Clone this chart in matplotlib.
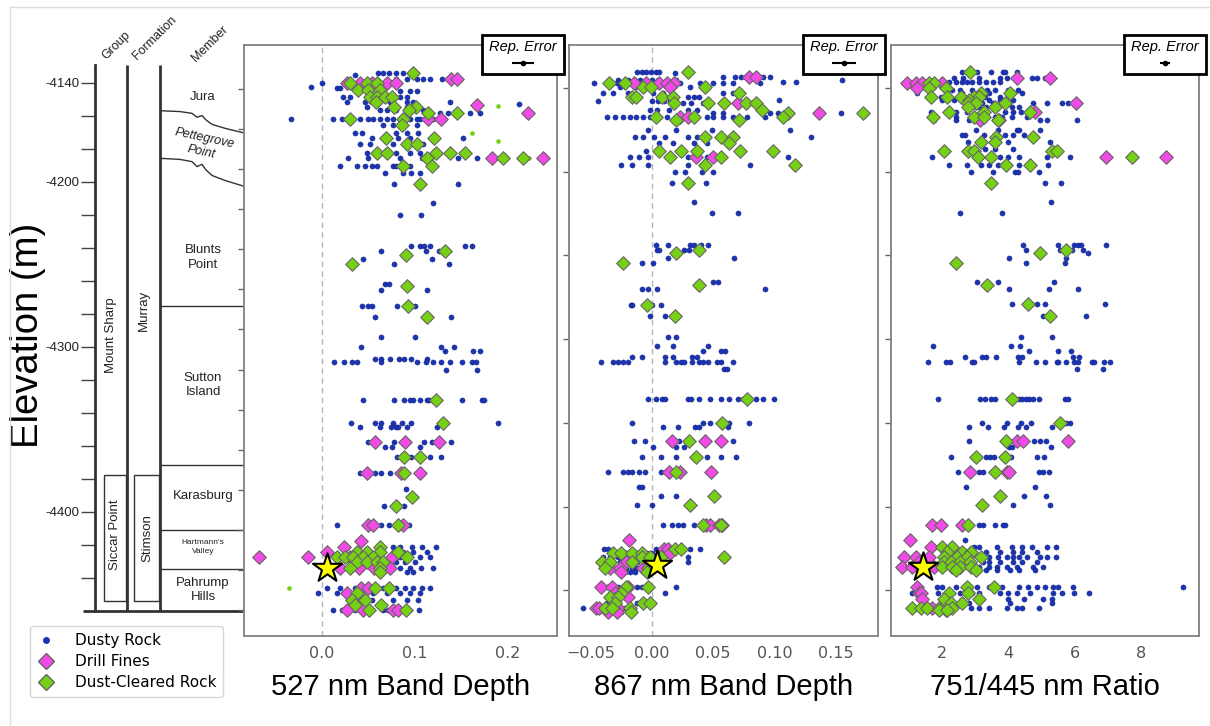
import matplotlib
matplotlib.use("Agg")
import matplotlib.pyplot as plt
from matplotlib.lines import Line2D
from matplotlib.patches import Rectangle

# ---------------- data (elevation in m, value) ----------------
dusty_527 = [
    (-4134.1, [0.060, 0.066, 0.072, 0.080, 0.087]), (-4135.3, [0.036]),
    (-4137.8, [0.080, 0.091, 0.102, 0.109, 0.116, 0.129]),
    (-4140.2, [0.000]), (-4142.6, [-0.012]),
    (-4143.2, [0.016, 0.019, 0.066]), (-4145.0, [0.084, 0.095, 0.102]),
    (-4148.7, [0.023, 0.030, 0.084, 0.091]),
    (-4151.7, [0.027, 0.046, 0.073, 0.091, 0.098, 0.138]), (-4152.9, [0.212]),
    (-4154.7, [0.048, 0.091]), (-4156.5, [0.062, 0.070, 0.080, 0.109]),
    (-4158.4, [0.127, 0.136, 0.159, 0.170]),
    (-4162.0, [-0.033, 0.012, 0.021, 0.030, 0.041, 0.049, 0.055, 0.062, 0.070, 0.076,
               0.084, 0.095, 0.102, 0.105, 0.119]),
    (-4165.6, [0.066, 0.076, 0.102]), (-4170.5, [0.035, 0.043, 0.080, 0.091, 0.103]),
    (-4173.5, [0.054, 0.082, 0.095, 0.152]), (-4177.2, [0.041, 0.052, 0.076, 0.109]),
    (-4182.6, [0.048, 0.080, 0.095, 0.105]),
    (-4185.6, [0.028, 0.049, 0.084, 0.108, 0.146, 0.167]),
    (-4190.5, [0.019, 0.038, 0.046, 0.054, 0.059, 0.076, 0.080, 0.087, 0.095]),
    (-4194.7, [0.068, 0.087, 0.096, 0.105]),
    (-4201.4, [0.077, 0.146]), (-4212.9, [0.120]), (-4220.2, [0.084, 0.107]),
    (-4239.0, [0.096, 0.105, 0.110, 0.116, 0.154, 0.162]),
    (-4242.0, [0.064, 0.112, 0.126, 0.135]), (-4246.8, [0.044, 0.118]),
    (-4249.9, [0.077, 0.137]), (-4262.0, [0.068, 0.072]),
    (-4265.6, [0.064, 0.113]), (-4275.3, [0.043, 0.050, 0.054, 0.081, 0.100]),
    (-4282.0, [0.057, 0.139]), (-4294.1, [0.064, 0.100]),
    (-4300.2, [0.042, 0.128, 0.142]), (-4302.6, [0.132, 0.163, 0.170]),
    (-4307.5, [0.057, 0.063, 0.073, 0.083, 0.088, 0.096, 0.113]),
    (-4309.3, [0.013, 0.024, 0.032, 0.038, 0.063, 0.102, 0.112, 0.120, 0.128, 0.138,
               0.151, 0.161, 0.166]),
    (-4314.1, [0.133, 0.167]),
    (-4332.3, [0.044, 0.077, 0.088, 0.095, 0.098, 0.106, 0.113, 0.115, 0.151, 0.172, 0.174]),
    (-4346.2, [0.031, 0.057, 0.064, 0.076, 0.086, 0.096, 0.189]),
    (-4348.7, [0.041, 0.062, 0.074, 0.080, 0.082, 0.091, 0.124]),
    (-4357.8, [0.050, 0.078, 0.110, 0.118, 0.139]), (-4360.8, [0.068, 0.075, 0.105]),
    (-4366.8, [0.081, 0.096, 0.108, 0.116, 0.128]),
    (-4376.5, [0.041, 0.057, 0.064, 0.073]), (-4386.2, [0.090]),
    (-4396.5, [0.067, 0.088]), (-4408.1, [0.016, 0.064, 0.072, 0.094]),
    (-4421.4, [0.076, 0.084, 0.097, 0.108, 0.123]), (-4424.4, [0.087, 0.098, 0.113]),
    (-4427.5, [0.084, 0.105, 0.116]), (-4430.5, [0.080, 0.089, 0.100]),
    (-4434.1, [0.084, 0.095, 0.107, 0.119]), (-4436.5, [0.091, 0.098]),
    (-4446.2, [0.005, 0.019, 0.035, 0.066, 0.080, 0.089, 0.098, 0.108, 0.116]),
    (-4449.2, [-0.004, 0.016, 0.027, 0.055, 0.070, 0.084, 0.095, 0.105]),
    (-4453.5, [0.054, 0.076, 0.091, 0.103]),
    (-4459.5, [0.012, 0.021, 0.035, 0.066, 0.071, 0.104]),
]
fines_527 = [
    (-4137.8, [0.139, 0.145]), (-4140.2, [0.027, 0.041, 0.054, 0.070, 0.080]),
    (-4153.5, [0.167]), (-4158.4, [0.222]), (-4162.0, [0.114, 0.128]),
    (-4185.6, [0.183, 0.238]), (-4357.8, [0.057, 0.089, 0.126]),
    (-4376.5, [0.048, 0.085, 0.106]), (-4408.1, [0.050, 0.055, 0.087]),
    (-4417.8, [0.042]), (-4421.4, [0.024]), (-4424.4, [0.005]),
    (-4427.5, [-0.068, -0.015, 0.030, 0.075]), (-4430.5, [0.044]),
    (-4434.1, [0.019, 0.040, 0.056, 0.073]), (-4446.2, [0.042, 0.050]),
    (-4449.2, [0.027]), (-4453.5, [0.041]), (-4459.5, [0.027, 0.044, 0.076, 0.082]),
]
cleared_527 = [
    (-4134.1, [0.098]), (-4140.2, [0.030, 0.048, 0.059]), (-4144.4, [0.039, 0.050, 0.062]),
    (-4148.7, [0.052, 0.059, 0.068, 0.075]), (-4151.7, [0.058]), (-4154.7, [0.077, 0.101]),
    (-4156.5, [0.094]), (-4158.4, [0.114, 0.145]), (-4162.0, [0.030, 0.087]),
    (-4165.6, [0.086]), (-4173.5, [0.069, 0.121]), (-4177.2, [0.092, 0.102]),
    (-4182.6, [0.059, 0.070, 0.123, 0.138, 0.154]), (-4185.6, [0.113, 0.195, 0.216]),
    (-4190.5, [0.087, 0.118]), (-4201.4, [0.106]), (-4242.0, [0.132]),
    (-4244.4, [0.090]), (-4249.9, [0.032]), (-4263.2, [0.091]), (-4275.3, [0.093]),
    (-4282.0, [0.113]), (-4332.3, [0.123]), (-4346.2, [0.130]),
    (-4366.8, [0.088, 0.106]), (-4376.5, [0.088]), (-4391.1, [0.097]),
    (-4396.5, [0.080]), (-4408.1, [0.082]), (-4421.4, [0.062]),
    (-4424.4, [0.038, 0.048, 0.062, 0.082]),
    (-4427.5, [0.016, 0.025, 0.033, 0.044, 0.055, 0.091]),
    (-4430.5, [0.038, 0.048, 0.059, 0.066]), (-4434.1, [0.030, 0.062]),
    (-4436.5, [0.062]), (-4446.2, [0.057, 0.072]), (-4449.2, [0.038]),
    (-4453.5, [0.032, 0.046]), (-4456.5, [0.035, 0.064]), (-4459.5, [0.051, 0.090]),
]
cleared_small_527 = [(-4154.1, [0.190]), (-4170.5, [0.162]), (-4175.3, [0.190]),
                     (-4185.6, [0.223]), (-4446.2, [-0.036])]
star_527 = (0.005, -4434.1)

dusty_867 = [
    (-4133.5, [-0.012, -0.008, -0.005, -0.001, 0.003, 0.006]), (-4134.1, [0.019]),
    (-4136.5, [0.058, 0.068, 0.073, 0.091, 0.096]),
    (-4138.4, [-0.028, -0.020, -0.015, -0.010, -0.005, 0.000, 0.005, 0.012, 0.020, 0.155]),
    (-4139.6, [0.107, 0.118]),
    (-4140.2, [-0.047, -0.029, -0.003, 0.023, 0.039, 0.050, 0.058, 0.066, 0.088]),
    (-4142.6, [-0.026, -0.014, 0.031]),
    (-4146.2, [-0.040, -0.032, -0.020, 0.001, 0.009, 0.058, 0.066]),
    (-4148.7, [0.029, 0.034, 0.038]), (-4150.5, [0.104]),
    (-4151.1, [-0.044, 0.000, 0.005, 0.010, 0.015]), (-4152.3, [0.025, 0.032, 0.042]),
    (-4156.5, [-0.002, 0.004, 0.014, 0.029, 0.037]),
    (-4158.4, [0.050, 0.058, 0.096, 0.103, 0.154]),
    (-4160.8, [-0.037, -0.030, -0.024, -0.018, -0.013, -0.007, -0.002, 0.006, 0.012,
               0.045, 0.050, 0.058, 0.066, 0.078, 0.092]),
    (-4168.7, [-0.003, 0.020, 0.049, 0.113]),
    (-4172.9, [-0.014, -0.007, 0.002, 0.011, 0.029, 0.037, 0.130]),
    (-4176.5, [0.006, 0.017, 0.034, 0.045]), (-4181.4, [-0.005, 0.021]),
    (-4185.0, [-0.018, -0.011, -0.003, 0.029, 0.045, 0.111]),
    (-4189.9, [-0.025, -0.016, -0.003, 0.029, 0.080]),
    (-4194.1, [0.019, 0.027, 0.041, 0.050]),
    (-4200.8, [0.016, 0.044]), (-4212.3, [0.034]), (-4219.0, [0.049, 0.070]),
    (-4238.4, [0.003, 0.013, 0.031, 0.034, 0.040, 0.046]),
    (-4241.4, [0.004, 0.006, 0.026, 0.030]), (-4246.2, [0.013, 0.067]),
    (-4249.3, [-0.008, 0.001]), (-4260.8, [0.050, 0.054]),
    (-4265.0, [-0.008, -0.003, 0.004, 0.092]), (-4274.7, [-0.017, -0.016, 0.000, 0.007]),
    (-4281.4, [-0.002, 0.011]), (-4294.1, [0.013, 0.020]),
    (-4299.6, [0.004, 0.017, 0.046]), (-4302.6, [0.042, 0.056, 0.060]),
    (-4306.2, [-0.016, -0.008, 0.011, 0.017, 0.033, 0.037]),
    (-4309.3, [-0.042, -0.032, -0.028, -0.024, -0.020, 0.011, 0.020, 0.024, 0.026, 0.033,
               0.038, 0.042, 0.046, 0.053, 0.056, 0.066]),
    (-4313.5, [0.059, 0.061]),
    (-4331.7, [-0.003, 0.003, 0.008, 0.011, 0.029, 0.032, 0.038, 0.047, 0.056, 0.063,
               0.070, 0.074, 0.085, 0.091, 0.100]),
    (-4346.2, [-0.016, 0.042, 0.047, 0.063, 0.079]),
    (-4348.7, [0.009, 0.021, 0.035, 0.038, 0.062]),
    (-4357.2, [-0.015, -0.006, 0.022, 0.066]), (-4360.8, [0.001, 0.020, 0.026]),
    (-4366.8, [-0.008, 0.007, 0.020, 0.045, 0.056, 0.069]),
    (-4375.9, [-0.036, -0.024, -0.020, -0.016, -0.011, -0.006, 0.007]),
    (-4385.0, [-0.011, -0.008]), (-4390.5, [0.007, 0.020]), (-4395.9, [-0.012, 0.000]),
    (-4408.1, [0.009, 0.016, 0.021, 0.025, 0.034, 0.039]),
    (-4422.6, [-0.039, -0.036, 0.003, 0.023, 0.031, 0.039]),
    (-4425.0, [-0.026, -0.021, -0.004, 0.000]), (-4427.5, [-0.040, -0.034, -0.028, 0.029]),
    (-4430.5, [-0.026, -0.021, -0.012, 0.029]), (-4434.1, [-0.021, -0.016, -0.012]),
    (-4436.5, [-0.022, -0.018, -0.014]),
    (-4445.6, [-0.037, -0.028, -0.012, -0.008, 0.020]),
    (-4449.2, [-0.032, -0.024, 0.011]), (-4455.3, [-0.037, -0.012]),
    (-4458.3, [-0.056, -0.022]), (-4460.8, [-0.025]),
]
fines_867 = [
    (-4136.5, [0.079, 0.085]), (-4140.2, [-0.015, -0.005, 0.006, 0.012, 0.018]),
    (-4142.6, [0.015]), (-4152.3, [0.070]), (-4158.4, [0.136]), (-4160.8, [0.023, 0.029]),
    (-4185.0, [0.036, 0.050]), (-4357.2, [0.016, 0.043, 0.056]),
    (-4375.9, [0.014, 0.023, 0.048]), (-4408.1, [0.044, 0.047, 0.055, 0.057]),
    (-4417.2, [-0.019]), (-4422.6, [0.010, 0.013]), (-4425.0, [0.015]),
    (-4427.5, [-0.022, -0.012]), (-4430.5, [-0.021]), (-4434.1, [-0.034, -0.026, -0.007]),
    (-4436.5, [-0.025]), (-4445.6, [-0.042, -0.033, -0.020]), (-4449.2, [-0.030]),
    (-4451.7, [-0.020]), (-4458.3, [-0.046, -0.043, -0.028]), (-4460.8, [-0.036, -0.029]),
]
cleared_867 = [
    (-4133.5, [0.029]), (-4140.2, [-0.035, -0.022]), (-4142.6, [-0.007, -0.001, 0.043]),
    (-4146.2, [0.071]), (-4148.7, [-0.016, -0.013, 0.008, 0.017]),
    (-4152.3, [0.018, 0.046, 0.059, 0.077, 0.085]), (-4156.5, [0.090]),
    (-4158.4, [0.111, 0.172]), (-4160.8, [0.003, 0.034, 0.107]), (-4162.6, [0.020, 0.071]),
    (-4172.9, [0.043, 0.056, 0.066]), (-4176.5, [0.063]),
    (-4181.4, [0.006, 0.024, 0.037, 0.072, 0.099]), (-4185.0, [0.015, 0.056]),
    (-4189.9, [0.043, 0.117]), (-4200.8, [0.029]), (-4241.4, [0.038]), (-4243.2, [0.020]),
    (-4249.3, [-0.024]), (-4262.6, [0.038]), (-4274.7, [-0.004]), (-4281.4, [0.019]),
    (-4331.7, [0.078]), (-4346.2, [0.057]), (-4357.2, [0.030]), (-4366.8, [0.036]),
    (-4375.9, [0.020]), (-4390.5, [0.051]), (-4395.9, [0.031]), (-4408.1, [0.042, 0.056]),
    (-4422.6, [0.019, 0.024]), (-4425.0, [-0.032, -0.025, -0.016, -0.008]),
    (-4427.5, [-0.008, -0.002, 0.007, 0.059]), (-4430.5, [-0.041, -0.034, -0.016]),
    (-4434.1, [-0.038, -0.003]), (-4436.5, [-0.004]), (-4445.6, [-0.021, -0.003]),
    (-4449.2, [-0.025]), (-4451.7, [-0.034, -0.028]), (-4455.3, [-0.030, -0.007, -0.002]),
    (-4458.3, [-0.038, -0.033, -0.018]), (-4460.8, [-0.017]),
]
star_867 = (0.004, -4432.3)

dusty_ratio = [
    (-4133.5, [2.58, 3.06, 3.48, 3.82, 3.88, 4.24]),
    (-4137.2, [2.36, 2.61, 3.12, 3.73, 3.94, 4.70, 4.85, 5.09]),
    (-4139.6, [2.00, 2.21, 2.42, 2.58, 2.73, 2.91, 3.12, 3.33, 3.52, 3.73]),
    (-4144.4, [2.30, 2.52, 2.91, 3.36, 3.58, 3.97, 4.27]),
    (-4146.2, [1.24, 2.58, 3.42, 4.42]), (-4148.7, [1.97, 2.82, 3.30, 3.73]),
    (-4150.5, [2.00, 2.36, 2.73, 3.42, 3.73, 4.12]),
    (-4152.3, [3.21, 3.52, 4.73, 5.15, 5.61, 5.79]),
    (-4154.7, [3.03, 3.12, 3.33, 4.09, 4.33]),
    (-4157.8, [1.67, 2.42, 2.73, 3.88, 4.12, 4.39]),
    (-4160.8, [2.42, 3.58, 3.79, 4.09, 4.55]),
    (-4162.6, [1.76, 2.42, 2.82, 4.94, 5.15, 6.06]),
    (-4168.7, [3.03, 3.67, 4.24, 4.33, 4.94]),
    (-4171.7, [2.58, 2.67, 3.27, 3.88, 4.12, 4.48]),
    (-4175.9, [2.76, 3.97, 5.24]), (-4180.2, [2.97, 3.30, 3.58, 4.12]),
    (-4185.0, [1.70, 3.12, 3.73, 3.97, 4.33, 5.15, 5.85]),
    (-4189.9, [2.21, 2.73, 3.18, 3.42, 3.67, 4.33, 5.18]),
    (-4194.1, [2.88, 3.52, 4.18, 4.27, 4.91]),
    (-4200.8, [5.09, 5.58]), (-4212.3, [5.27]), (-4219.0, [2.52, 3.79]),
    (-4238.4, [4.45, 5.48, 5.97, 6.09, 6.18, 6.94]),
    (-4241.4, [4.52, 5.55, 5.91, 6.24]), (-4243.2, [6.39]), (-4246.2, [4.00, 5.73]),
    (-4249.3, [4.52, 5.70]), (-4260.8, [3.06, 3.67, 5.36]), (-4265.0, [4.00, 5.21, 6.09]),
    (-4274.1, [4.09, 4.85, 5.09, 6.91]), (-4281.4, [5.03, 6.33]), (-4294.1, [4.39, 5.30]),
    (-4299.6, [1.73, 4.06, 4.36]), (-4302.6, [4.61, 5.48, 5.88]),
    (-4306.2, [2.67, 3.21, 3.33, 3.61, 4.27, 4.42, 5.94, 6.12]),
    (-4309.3, [1.58, 2.12, 2.24, 2.91, 2.97, 4.33, 4.82, 5.09, 5.45, 5.48, 5.73, 5.97,
               6.09, 6.52, 6.58, 6.88, 7.06]),
    (-4313.5, [6.06, 6.85]),
    (-4331.7, [1.88, 3.15, 3.30, 3.48, 3.58, 4.30, 4.42, 4.52, 4.61, 4.73, 4.91, 5.70, 5.79]),
    (-4346.2, [3.21, 3.94, 4.39, 4.67, 5.73, 5.85]),
    (-4348.7, [2.82, 3.39, 3.85, 4.27, 4.52, 5.30]),
    (-4357.2, [2.82, 4.76, 4.94, 5.12]), (-4360.8, [4.00, 4.09, 5.27]),
    (-4366.8, [2.27, 3.33, 3.45, 3.55, 4.06, 4.85, 5.06]),
    (-4375.9, [2.48, 3.12, 3.24, 4.91, 5.03, 5.21]),
    (-4385.0, [2.70, 4.79]), (-4390.5, [4.48, 5.12]), (-4395.9, [4.12, 5.24]),
    (-4408.1, [3.12, 3.24, 3.58, 3.82, 3.88]), (-4417.2, [2.67]),
    (-4421.4, [2.97, 3.12, 3.64, 4.09, 4.42, 4.70, 5.15, 5.42]),
    (-4424.4, [3.33, 3.73, 4.12, 4.42, 4.85]),
    (-4427.5, [3.42, 3.67, 3.94, 4.12, 4.33, 4.55, 4.94, 5.15, 5.42]),
    (-4430.5, [3.24, 3.42, 3.73, 4.12, 4.42, 4.85]),
    (-4433.5, [3.12, 3.42, 3.64, 3.94, 4.24, 4.73, 5.03]),
    (-4435.3, [3.33, 3.64, 4.03, 4.33, 4.79]),
    (-4445.6, [1.85, 2.00, 2.42, 3.06, 3.42, 3.79, 4.33, 4.58, 4.85, 5.09, 5.33, 5.48,
               5.94, 9.27]),
    (-4449.2, [1.09, 1.88, 2.52, 2.91, 3.12, 3.73, 3.97, 4.24, 4.64, 5.33, 5.61, 5.97, 6.42]),
    (-4452.9, [3.97, 4.48, 5.03, 5.30]), (-4455.3, [2.82, 4.03, 5.30]),
    (-4458.3, [2.88, 3.12, 3.42, 3.94, 4.24, 4.42, 4.91]),
]
fines_ratio = [
    (-4137.2, [4.24, 5.24]), (-4140.2, [0.94, 1.21, 1.39, 2.00]), (-4143.2, [1.24]),
    (-4152.3, [6.03]), (-4157.8, [4.79]), (-4162.6, [3.15, 3.70]), (-4185.0, [6.94, 8.76]),
    (-4357.2, [4.24, 4.45, 5.79]), (-4375.9, [2.85, 3.94, 4.00]),
    (-4408.1, [1.70, 1.97, 2.58]), (-4417.2, [1.03]), (-4421.4, [1.67]),
    (-4427.5, [0.85, 1.21, 1.61]), (-4430.5, [1.30]), (-4433.5, [0.79, 1.09, 1.76]),
    (-4445.6, [1.24]), (-4449.2, [1.30, 1.36]), (-4452.9, [1.39]),
    (-4458.3, [1.70, 2.21]), (-4459.5, [2.12]),
]
cleared_ratio = [
    (-4133.5, [2.85]), (-4140.2, [1.61, 1.76]), (-4143.2, [1.61, 2.12]),
    (-4146.2, [3.18, 4.03]), (-4148.7, [1.67, 2.15, 2.55, 2.97, 3.12]), (-4150.5, [2.82]),
    (-4152.3, [2.76, 3.03, 3.88]), (-4154.7, [2.79, 3.58]), (-4157.8, [2.21, 3.27, 4.64]),
    (-4160.8, [1.73, 2.97, 3.27]), (-4162.6, [3.67]), (-4172.9, [3.61, 4.73]),
    (-4175.9, [3.18, 3.58]), (-4181.4, [2.06, 2.76, 2.97, 5.30, 5.45]),
    (-4185.0, [3.09, 3.48, 7.73]), (-4189.9, [3.91, 4.64]), (-4200.8, [3.48]),
    (-4241.4, [5.73]), (-4243.2, [4.94]), (-4249.3, [2.42]), (-4262.6, [3.36]),
    (-4274.1, [4.58]), (-4281.4, [5.24]), (-4331.7, [4.09]), (-4346.2, [5.55]),
    (-4357.2, [3.91]), (-4366.8, [3.03, 3.88]), (-4375.9, [3.58]), (-4390.5, [3.73]),
    (-4395.9, [3.21]), (-4408.1, [2.79]), (-4421.4, [2.00, 2.30]),
    (-4424.4, [2.15, 2.58, 2.88]), (-4427.5, [2.06, 2.45, 2.73, 3.18]),
    (-4430.5, [2.06, 2.27, 2.52, 2.85]), (-4433.5, [2.00, 2.30, 2.52, 2.88]),
    (-4435.3, [2.42, 3.03]), (-4445.6, [2.73, 3.55]), (-4449.2, [2.21, 2.76]),
    (-4452.9, [2.06, 3.12]), (-4455.3, [2.27, 2.58]),
    (-4458.3, [1.09, 1.36, 1.55, 1.91, 2.30]), (-4459.5, [1.91, 2.15]),
]
star_ratio = (1.42, -4433.5)

panel_labels = ["527 nm Band Depth", "867 nm Band Depth", "751/445 nm Ratio"]
rep_error = [0.011, 0.0086, 0.12]

# stratigraphy (elevation, m)
members = ["Jura", "Pettegrove\nPoint", "Blunts\nPoint", "Sutton\nIsland",
           "Karasburg", "Hartmann's\nValley", "Pahrump\nHills"]
member_label_elev = [-4148.5, -4178.0, -4246.0, -4323.0, -4390.5, -4421.5, -4447.5]
member_bounds = [-4275.3, -4371.7, -4411.1, -4434.7]
col_top, col_bottom = -4129.3, -4460.0
lower_box = (-4454.0, -4377.8)

BLUE = "#1b33b5"
PINK = "#f24ae6"
GREEN = "#76d115"
EDGE = "#666666"


def flat(rows):
    xs, ys = [], []
    for elev, vals in rows:
        xs += vals
        ys += [elev] * len(vals)
    return xs, ys


W, H = 1210, 726
fig = plt.figure(figsize=(W / 100, H / 100), dpi=100)


def elev(py):
    # pixel row of the reference column -> elevation
    return -4140 - (py - 82.7) / 1.65


# faint outer frame of the original figure
fig.add_artist(Line2D([10 / W, 10 / W], [0, 1 - 7 / H], transform=fig.transFigure,
                      color="#dddddd", lw=1))
fig.add_artist(Line2D([10 / W, 1], [1 - 7 / H, 1 - 7 / H], transform=fig.transFigure,
                      color="#dddddd", lw=1))

# ---------------- stratigraphic column ----------------
ax0 = fig.add_axes([0, 0, 244 / W, 1])
ax0.set_xlim(0, 244)
ax0.set_ylim(elev(H), elev(0))
for s in ["top", "right", "bottom"]:
    ax0.spines[s].set_visible(False)
ax0.spines["left"].set_position(("data", 95))
ax0.spines["left"].set_bounds(col_bottom, col_top)
ax0.spines["left"].set_linewidth(2)
ax0.spines["left"].set_color("#333333")
ax0.set_xticks([])
ticks = list(range(-4440, -4139, 20))
ax0.set_yticks(ticks)
ax0.set_yticklabels([str(t) if t in (-4140, -4200, -4300, -4400) else "" for t in ticks],
                    family="Liberation Sans", fontsize=9.5, color="#222222")
ax0.tick_params(axis="y", length=10, width=1, color="#444444", pad=1)
ax0.patch.set_alpha(0)

lc = "#333333"
ax0.vlines([127, 160], col_bottom, col_top, color=lc, lw=2)
ax0.hlines(col_bottom, 83, 243, color=lc, lw=2)
ax0.hlines(member_bounds, 160, 243, color=lc, lw=1)
for x0, w in [(104, 22), (134, 25)]:
    ax0.add_patch(Rectangle((x0, lower_box[0]), w, lower_box[1] - lower_box[0],
                            fill=False, ec=lc, lw=1))
# wavy member boundaries
for py0, py1 in [(110.7, 132.7), (158.3, 186.0)]:
    xs = [160, 180, 192, 197, 202, 206, 212, 225, 243]
    frac = [0, 0.04, 0.12, 0.30, 0.22, 0.42, 0.62, 0.80, 1.0]
    ax0.plot(xs, [elev(py0 + f * (py1 - py0)) for f in frac], color=lc, lw=1)

tkw = dict(family="Liberation Sans", color="#222222", ha="center", va="center")
for name, e in zip(members, member_label_elev):
    if name.startswith("Hartmann"):
        ax0.text(203, e, name, fontsize=6, linespacing=1.3, **tkw)
    elif name.startswith("Pettegrove"):
        ax0.text(203, e, name, fontsize=9, rotation=-12, style="italic", **tkw)
    else:
        ax0.text(203, e, name, fontsize=9.5, linespacing=1.25, **tkw)
ax0.text(111, elev(335), "Mount Sharp", rotation=90, fontsize=9.5, **tkw)
ax0.text(144, elev(310), "Murray", rotation=90, fontsize=9.5, **tkw)
ax0.text(115, elev(535), "Siccar Point", rotation=90, fontsize=9.5, **tkw)
ax0.text(147, elev(538), "Stimson", rotation=90, fontsize=9.5, **tkw)
for x, py, s in [(108, 62, "Group"), (139, 62, "Formation"), (198, 64, "Member")]:
    ax0.text(x, elev(py), s, rotation=45, rotation_mode="anchor", ha="left", va="bottom",
             fontsize=9, family="Liberation Sans", color="#222222", clip_on=False)
ax0.text(28, elev(335), "Elevation (m)", rotation=90, ha="center", va="center",
         family="Liberation Sans", fontsize=27.5, color="black")

# ---------------- scatter panels ----------------
panels = [
    (244, 313, (-0.084, 0.253), [0.0, 0.1, 0.2], ["0.0", "0.1", "0.2"],
     dusty_527, fines_527, cleared_527, cleared_small_527, star_527, True),
    (569, 309, (-0.0678, 0.1846), [-0.05, 0.0, 0.05, 0.10, 0.15],
     ["\u22120.05", "0.00", "0.05", "0.10", "0.15"],
     dusty_867, fines_867, cleared_867, [], star_867, True),
    (891, 308, (0.45, 9.75), [2, 4, 6, 8], ["2", "4", "6", "8"],
     dusty_ratio, fines_ratio, cleared_ratio, [], star_ratio, False),
]
ylim = (elev(636), elev(45))
ytick_sets = [
    [elev(89 + 40.08 * k) for k in range(14)],
    [elev(88 + 83.7 * k) for k in range(7)],
    [elev(88 + 83.7 * k) for k in range(7)],
]

for i, (lpx, wpx, xlim, xt, xtl, dusty, fines, cleared, small, star, zero) in enumerate(panels):
    ax = fig.add_axes([lpx / W, (H - 636) / H, wpx / W, 591 / H])
    ax.set_xlim(*xlim)
    ax.set_ylim(*ylim)
    if zero:
        ax.axvline(0, color="#b5b5b5", lw=1, ls=(0, (4, 3)), zorder=0)
    x, y = flat(dusty)
    ax.scatter(x, y, s=14, color=BLUE, edgecolors="#10207a", linewidths=0.3, zorder=2)
    if small:
        x, y = flat(small)
        ax.scatter(x, y, s=11, color=GREEN, linewidths=0, zorder=2)
    x, y = flat(fines)
    ax.scatter(x, y, s=48, marker="D", color=PINK, edgecolors=EDGE, linewidths=0.8, zorder=3)
    x, y = flat(cleared)
    ax.scatter(x, y, s=48, marker="D", color=GREEN, edgecolors=EDGE, linewidths=0.8, zorder=3)
    ax.scatter([star[0]], [star[1]], s=480, marker="*", color="#ffff00",
               edgecolors="black", linewidths=1.5, zorder=5)

    for s in ax.spines.values():
        s.set_color("#808080")
        s.set_linewidth(1.3)
    ax.set_xticks(xt)
    ax.set_xticklabels(xtl)
    ax.set_yticks(ytick_sets[i])
    ax.set_yticklabels([])
    ax.tick_params(axis="x", length=0, labelsize=11.5, labelcolor="#555555", pad=7)
    ax.tick_params(axis="y", length=4, width=1, color="#666666")
    ax.set_xlabel(panel_labels[i], family="Liberation Sans", fontsize=21,
                  color="black", labelpad=9)

    # representative error box
    bx0 = (lpx + wpx - 75) / W
    box = Rectangle((bx0, (H - 74) / H), 82 / W, 39 / H, transform=fig.transFigure,
                    fc="white", ec="black", lw=2, zorder=10)
    fig.add_artist(box)
    cx = bx0 + 41 / W
    fig.text(cx, (H - 47) / H, "Rep. Error", ha="center", va="center", style="italic",
             family="Liberation Sans", fontsize=10.5, zorder=11)
    half = rep_error[i] / (xlim[1] - xlim[0]) * wpx / W
    yb = (H - 63) / H
    fig.add_artist(Line2D([cx - half, cx + half], [yb, yb], transform=fig.transFigure,
                          color="black", lw=1.5, zorder=11))
    fig.add_artist(Line2D([cx], [yb], transform=fig.transFigure, marker="o",
                          markersize=3, color="black", zorder=11))

# ---------------- legend ----------------
handles = [
    Line2D([], [], ls="none", marker="o", markersize=4, color=BLUE, label="Dusty Rock"),
    Line2D([], [], ls="none", marker="D", markersize=8, markerfacecolor=PINK,
           markeredgecolor=EDGE, label="Drill Fines"),
    Line2D([], [], ls="none", marker="D", markersize=8, markerfacecolor=GREEN,
           markeredgecolor=EDGE, label="Dust-Cleared Rock"),
]
fig.legend(handles=handles, loc="upper left", bbox_to_anchor=(30 / W, 1 - 626 / H),
           fontsize=11, frameon=True, borderpad=0.45, labelspacing=0.4,
           handlelength=1.2, handletextpad=1.3, borderaxespad=0, edgecolor="#cccccc")

fig.savefig("out.png", dpi=100)
